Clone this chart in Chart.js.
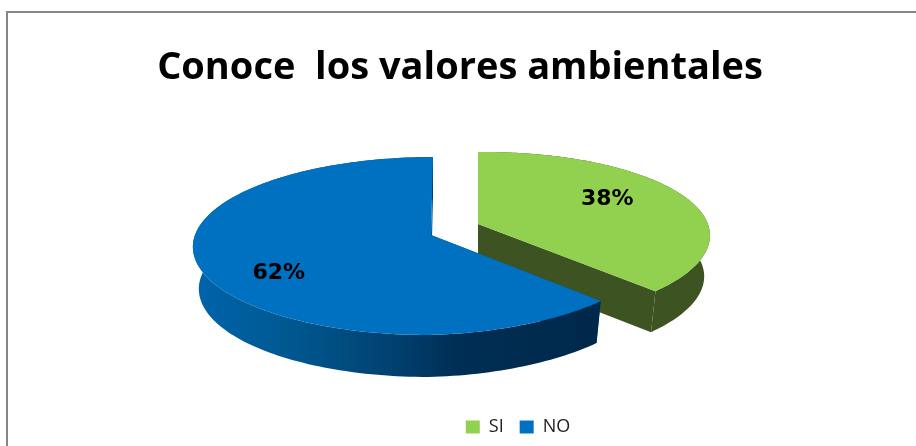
<!DOCTYPE html>
<html>
<head>
<meta charset="utf-8">
<title>Conoce los valores ambientales</title>
<script src="https://cdn.jsdelivr.net/npm/chart.js@4"></script>
<style>
  html, body { margin: 0; padding: 0; background: #fff; overflow: hidden; }
  #wrap { position: relative; width: 916px; height: 446px; }
  #frame { position: absolute; left: 6px; top: 11px; right: 0; bottom: 0; border-top: 2px solid #868686; border-left: 2px solid #868686; }
  canvas { position: absolute; left: 0; top: 0; }
</style>
</head>
<body>
<div id="wrap">
  <div id="frame"></div>
  <canvas id="pieChart" width="916" height="446"></canvas>
</div>
<script>
const chartTitle = "Conoce  los valores ambientales";
const categories = ["SI", "NO"];
const values = [38, 62];
const sliceColors = ["#92D050", "#0070C0"];

// how each slice sits on the tilted plane (one per slice)
const sliceViews = [
  { cx: 478, cy: 224, left: 227, right: 229, b: 83.5, k: 0.16, lift: 0.01, shear: 0, depth: 41, labelR: 0.64, nudge: [-2, -4] },
  { cx: 431, cy: 235, left: 236, right: 228, b: 87.6, k: 0.124, lift: 0.024, shear: 0.026, depth: 42, labelR: 0.64, nudge: [-7, 17] }
];
const wallInset = 0.975;

function project(v, t, r) {
  const X = r * Math.sin(t);
  const Y = -r * Math.cos(t);
  const w = 1 - v.k * Y;
  const x = (X < 0 ? v.left : v.right) * X / w;
  const y = v.b * Y / w;
  return {
    x: x - v.shear * y,
    y: y - (x > 0 ? v.lift * x : 0)
  };
}

function topPoint(v, t, r) {
  const p = project(v, t, r);
  return [v.cx + p.x, v.cy + p.y];
}

function lowPoint(v, t, r) {
  const p = project(v, t, r);
  return [v.cx + p.x * wallInset, v.cy + p.y + v.depth];
}

function fillPoly(ctx, pts, fill) {
  ctx.beginPath();
  pts.forEach((p, i) => i ? ctx.lineTo(p[0], p[1]) : ctx.moveTo(p[0], p[1]));
  ctx.closePath();
  ctx.fillStyle = fill;
  ctx.fill();
}

function arcAngles(t0, t1) {
  const out = [];
  for (let i = 0; i <= 160; i++) out.push(t0 + (t1 - t0) * i / 160);
  return out;
}

function wallFill(ctx, index) {
  if (index === 0) return "#3D5321";
  const g = ctx.createLinearGradient(192, 0, 601, 0);
  g.addColorStop(0, "#0064AC");
  g.addColorStop(0.25, "#00578F");
  g.addColorStop(0.5, "#00406F");
  g.addColorStop(0.65, "#002E54");
  g.addColorStop(1, "#00284A");
  return g;
}

const pie3d = {
  id: "pie3d",
  beforeDatasetsDraw(chart) {
    const ctx = chart.ctx;
    const arcs = chart.getDatasetMeta(0).data;
    ctx.save();
    arcs.forEach((arc, i) => {
      const v = sliceViews[i];
      const t0 = arc.startAngle + Math.PI / 2;
      const t1 = arc.endAngle + Math.PI / 2;
      const angles = arcAngles(t0, t1);
      const shade = i === 0 ? "#3D5321" : "#00508C";
      // cut faces
      [t0, t1].forEach(t => {
        fillPoly(ctx, [topPoint(v, t, 0), topPoint(v, t, 1), lowPoint(v, t, 1), lowPoint(v, t, 0)], shade);
      });
      // rim
      const rim = angles.map(t => topPoint(v, t, 1)).concat(angles.slice().reverse().map(t => lowPoint(v, t, 1)));
      fillPoly(ctx, rim, wallFill(ctx, i));
      // top
      fillPoly(ctx, [topPoint(v, t0, 0)].concat(angles.map(t => topPoint(v, t, 1))), sliceColors[i]);
    });
    // percent labels
    const total = values.reduce((a, b) => a + b, 0);
    ctx.font = "bold 22px 'DejaVu Sans'";
    ctx.fillStyle = "#000";
    ctx.textAlign = "center";
    ctx.textBaseline = "middle";
    arcs.forEach((arc, i) => {
      const v = sliceViews[i];
      const mid = (arc.startAngle + arc.endAngle) / 2 + Math.PI / 2;
      const p = topPoint(v, mid, v.labelR);
      ctx.fillText(Math.round(values[i] / total * 100) + "%", p[0] + v.nudge[0], p[1] + v.nudge[1]);
    });
    ctx.restore();
    return false;
  },
  afterLayout(chart) {
    // the legend sits right of centre in the reference
    chart.legend.left += 60;
    chart.legend.right += 60;
    chart.titleBlock.left += 2;
    chart.titleBlock.right += 2;
  }
};

new Chart(document.getElementById("pieChart"), {
  type: "pie",
  data: {
    labels: categories,
    datasets: [{ data: values, backgroundColor: sliceColors, borderWidth: 0 }]
  },
  plugins: [pie3d],
  options: {
    responsive: false,
    animation: false,
    layout: { padding: { bottom: 0 } },
    plugins: {
      title: {
        display: true,
        text: chartTitle,
        color: "#000",
        font: { family: "'Open Sans'", size: 38, weight: "bold" },
        padding: { top: 45, bottom: 10 }
      },
      legend: {
        position: "bottom",
        labels: {
          boxWidth: 14,
          boxHeight: 13,
          padding: 16,
          color: "#222",
          font: { family: "'Open Sans'", size: 18 }
        }
      },
      tooltip: { enabled: false }
    }
  }
});
</script>
</body>
</html>
